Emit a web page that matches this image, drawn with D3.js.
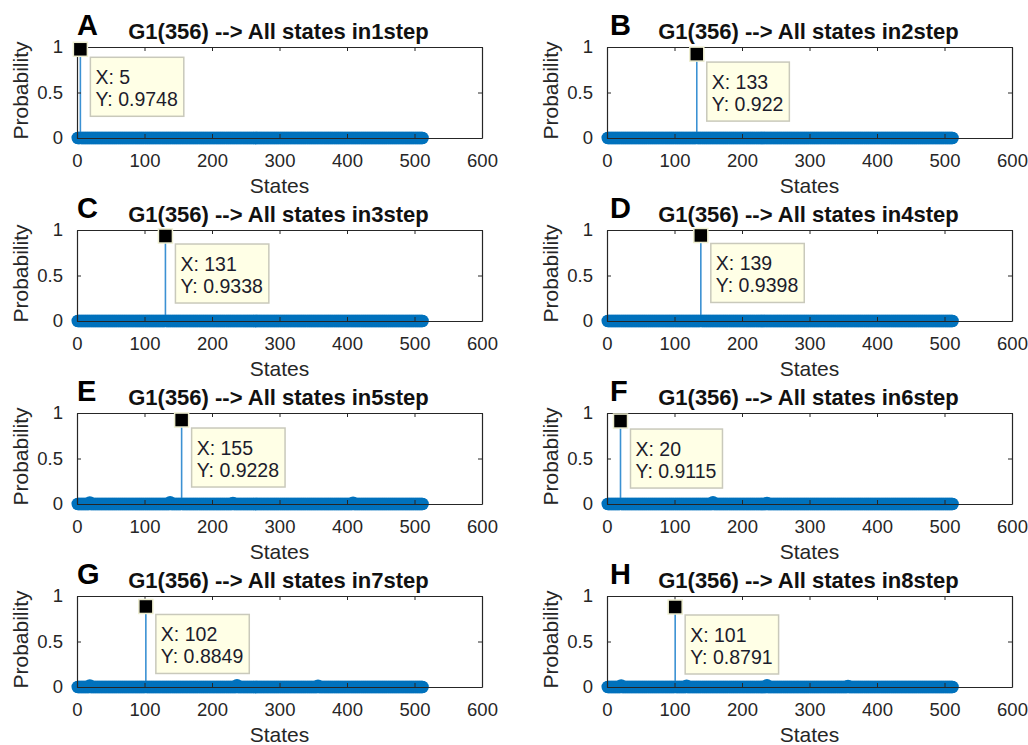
<!DOCTYPE html>
<html>
<head>
<meta charset="utf-8">
<script src="https://cdnjs.cloudflare.com/ajax/libs/d3/7.8.5/d3.min.js"></script>
<style>
  body { margin: 0; background: #fff; }
  text { font-family: "Liberation Sans", Arial, sans-serif; }
</style>
</head>
<body>
<svg id="chart"></svg>
<script>
var svg = d3.select("#chart")
            .attr("width", 1028)
            .attr("height", 745);

// data
var letters = ["A", "B", "C", "D", "E", "F", "G", "H"];
var steps = [1, 2, 3, 4, 5, 6, 7, 8];
var peakStates = [5, 133, 131, 139, 155, 20, 102, 101];
var peakProbs = [0.9748, 0.922, 0.9338, 0.9398, 0.9228, 0.9115, 0.8849, 0.8791];
// small side values visible as bumps on the baseline
var minorStates = [[], [], [], [], [19, 138, 231, 409], [157, 237], [19, 237, 357], [21, 118, 237, 357]];
var minorProbs = [[], [], [], [], [0.018, 0.02, 0.012, 0.015], [0.02, 0.012], [0.018, 0.02, 0.015], [0.018, 0.015, 0.02, 0.012]];
var nStates = 512;
var xTicks = [0, 100, 200, 300, 400, 500, 600];
var yTicks = [0, 0.5, 1];

var colLeft = [77, 607],
    rowTop = [47, 230, 413, 596],
    width = 405,
    height = 91;

var blue = "#0072BD",
    axisColor = "#262626";

var x = d3.scaleLinear().domain([0, 600]).range([0, width]),
    y = d3.scaleLinear().domain([0, 1]).range([height, 0]);

letters.forEach(function(letter, i) {
    var g = svg.append("g")
        .attr("transform", "translate(" + colLeft[i % 2] + "," + rowTop[Math.floor(i / 2)] + ")");

    // build the 512 state values (zeros except the listed ones)
    var values = d3.range(1, nStates + 1).map(function(s) { return {state: s, p: 0}; });
    minorStates[i].forEach(function(s, k) { values[s - 1].p = minorProbs[i][k]; });
    values[peakStates[i] - 1].p = peakProbs[i];

    g.append("rect")
        .attr("width", width)
        .attr("height", height)
        .style("fill", "#fff");

    //stems
    g.selectAll(".stem")
        .data(values.filter(function(d) { return d.p > 0; }))
        .enter().append("line")
        .attr("class", "stem")
        .attr("x1", function(d) { return x(d.state); })
        .attr("x2", function(d) { return x(d.state); })
        .attr("y1", y(0))
        .attr("y2", function(d) { return y(d.p); })
        .style("stroke", "#3b91d3")
        .style("stroke-width", 1.6);

    //markers
    g.selectAll(".dot")
        .data(values)
        .enter().append("circle")
        .attr("class", "dot")
        .attr("cx", function(d) { return x(d.state); })
        .attr("cy", function(d) { return y(d.p); })
        .attr("r", 6.2)
        .style("fill", blue);

    //axes (ticks inside, box on)
    g.append("g")
        .attr("transform", "translate(0," + height + ")")
        .call(d3.axisBottom(x).tickValues(xTicks).tickSize(-4).tickPadding(16).tickSizeOuter(0))
        .call(styleAxis);
    g.append("g")
        .call(d3.axisTop(x).tickValues(xTicks).tickSize(-4).tickFormat("").tickSizeOuter(0))
        .call(styleAxis);
    g.append("g")
        .call(d3.axisLeft(y).tickValues(yTicks).tickSize(-4).tickPadding(14).tickSizeOuter(0)
              .tickFormat(function(d) { return d === 0.5 ? "0.5" : d3.format("d")(d); }))
        .call(styleAxis);
    g.append("g")
        .attr("transform", "translate(" + width + ",0)")
        .call(d3.axisRight(y).tickValues(yTicks).tickSize(-4).tickFormat("").tickSizeOuter(0))
        .call(styleAxis);

    g.selectAll(".tick text")
        .style("font-size", "18.5px")
        .style("fill", axisColor);

    //labels
    g.append("text")
        .attr("x", width / 2)
        .attr("y", height + 55)
        .attr("text-anchor", "middle")
        .style("font-size", "21px")
        .style("fill", axisColor)
        .text("States");

    g.append("text")
        .attr("transform", "translate(-49," + (height / 2 - 2) + ") rotate(-90)")
        .attr("text-anchor", "middle")
        .style("font-size", "21px")
        .style("fill", axisColor)
        .text("Probability");

    g.append("text")
        .attr("x", width / 2 - 1)
        .attr("y", -8)
        .attr("text-anchor", "middle")
        .style("font-size", "22px")
        .style("font-weight", "bold")
        .style("fill", "#111")
        .text("G1(356) --> All states in" + steps[i] + "step");

    g.append("text")
        .attr("x", i % 2 === 0 ? 0 : 3)
        .attr("y", -12)
        .style("font-size", "29px")
        .style("font-weight", "bold")
        .style("fill", "#000")
        .text(letter);

    //data tip
    var px = x(peakStates[i]), py = y(peakProbs[i]);
    var tip = g.append("g").attr("transform", "translate(" + (px + 10) + "," + (py + 8) + ")");
    var box = tip.append("rect")
        .attr("height", 59)
        .style("fill", "#ffffe6")
        .style("stroke", "#c9c9bb")
        .style("stroke-width", 1.5);
    var t1 = tip.append("text").attr("x", 5).attr("y", 27)
        .style("font-size", "19.5px").style("fill", "#1c1c2c")
        .text("X: " + peakStates[i]);
    var t2 = tip.append("text").attr("x", 5).attr("y", 49)
        .style("font-size", "19.5px").style("fill", "#1c1c2c")
        .text("Y: " + peakProbs[i]);
    var tw = Math.max(t1.node().getComputedTextLength(), t2.node().getComputedTextLength());
    box.attr("width", tw + 11);

    g.append("rect")
        .attr("x", px - 7)
        .attr("y", py - 7)
        .attr("width", 14)
        .attr("height", 14)
        .style("fill", "#000")
        .style("stroke", "#eeeed0")
        .style("stroke-width", 1.5);
});

function styleAxis(sel) {
    sel.select(".domain").style("stroke", axisColor).style("stroke-width", 1.2);
    sel.selectAll(".tick line").style("stroke", axisColor);
}
</script>
</body>
</html>
